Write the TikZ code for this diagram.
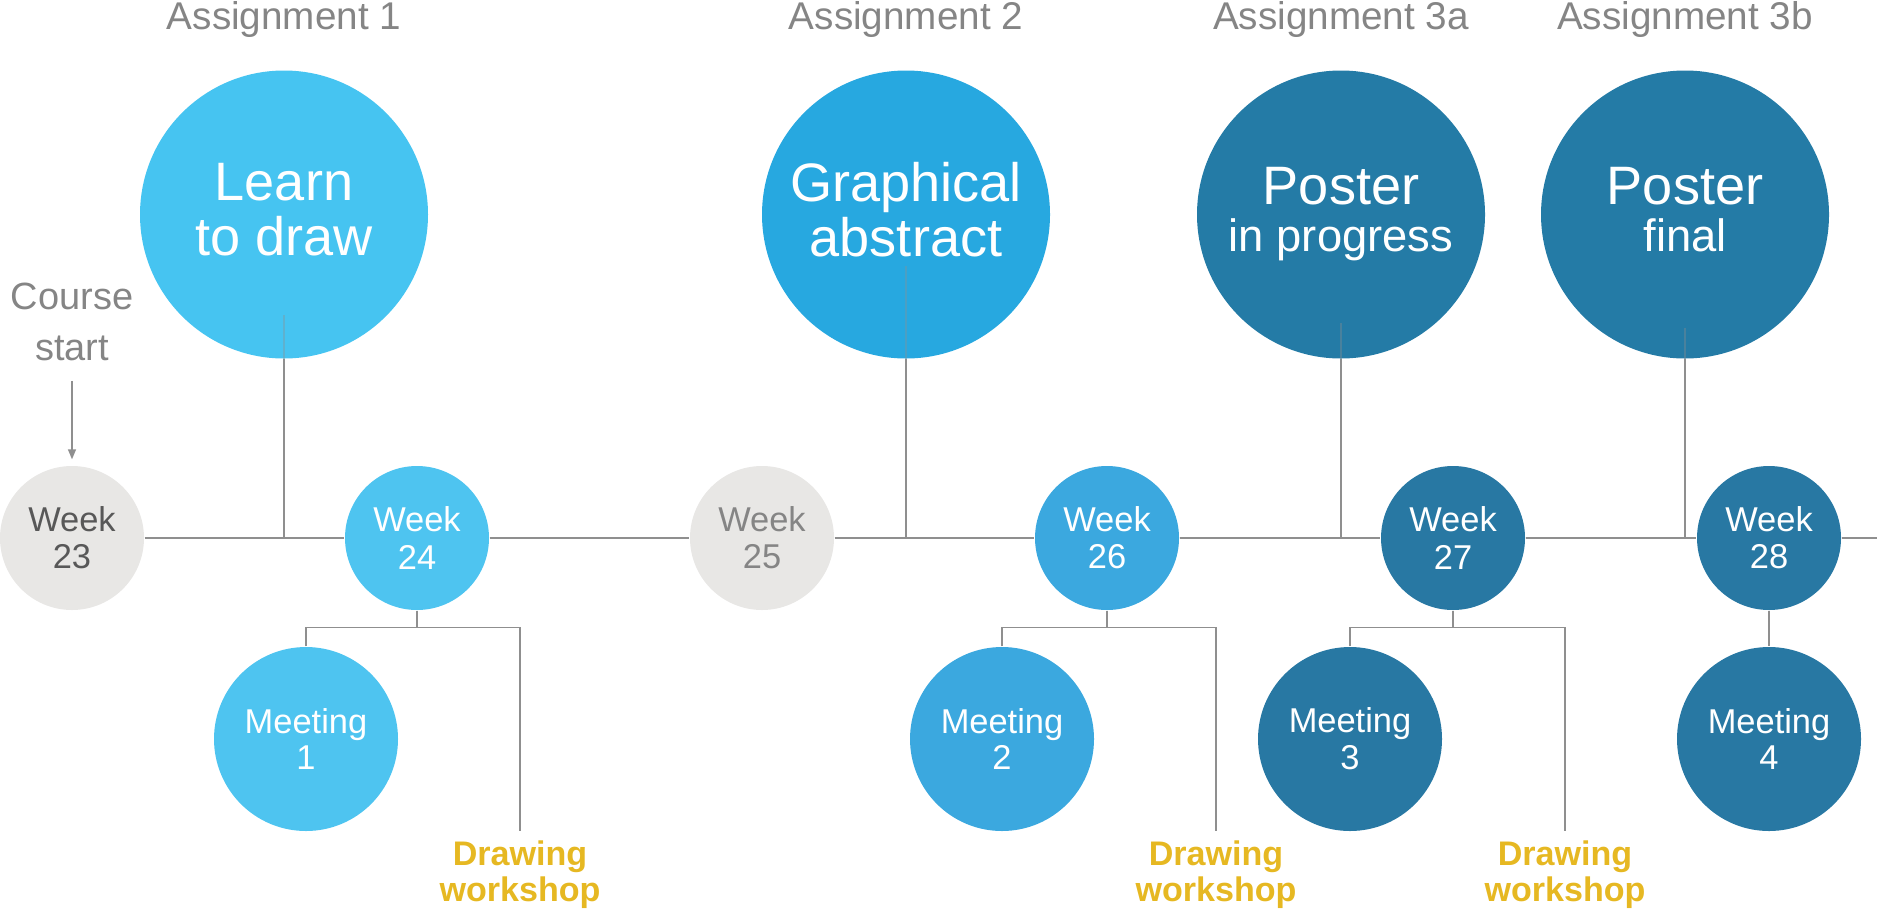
\documentclass[tikz,border=0pt]{standalone}
\usepackage{fontspec}
\setmainfont{Liberation Sans}
\usetikzlibrary{arrows.meta}

\definecolor{blueA}{RGB}{70,196,241}
\definecolor{blueAw}{RGB}{78,196,240}
\definecolor{blueB}{RGB}{39,168,224}
\definecolor{blueBw}{RGB}{59,168,223}
\definecolor{blueC}{RGB}{36,123,166}
\definecolor{blueCw}{RGB}{40,120,163}
\definecolor{weekGrayFill}{RGB}{232,231,229}
\definecolor{lineGray}{RGB}{143,143,143}
\definecolor{textGray}{RGB}{133,133,133}
\definecolor{darkText}{RGB}{88,88,88}
\definecolor{wsYellow}{RGB}{230,184,34}

\begin{document}
\begin{tikzpicture}
        [assign/.style={circle, minimum size=2.88cm, inner sep=0pt, text=white, align=center, text depth=0.1cm, font=\fontsize{15.4}{15.6}\selectfont},
        assignTitle/.style={anchor=base, text=textGray, font=\fontsize{11}{13}\selectfont},
        week/.style={circle, minimum size=1.44cm, inner sep=0pt, text=white, align=center, font=\fontsize{9.8}{10.6}\selectfont},
        weekGray/.style={week, fill=weekGrayFill},
        meeting/.style={circle, minimum size=1.84cm, inner sep=0pt, text=white, align=center, font=\fontsize{9.8}{10.5}\selectfont},
        workshop/.style={anchor=north, inner xsep=0pt, inner ysep=0.09cm, align=center, text=wsYellow, font=\bfseries\fontsize{9.7}{10.4}\selectfont},
        link/.style={draw=lineGray, line width=0.4pt}]
        \useasboundingbox (0,0) rectangle (18.77,-9.09);

        % assignments
        \node[assignTitle] (T1) at (2.84,-0.29) {Assignment 1};
        \node[assignTitle] (T2) at (9.06,-0.29) {Assignment 2};
        \node[assignTitle] (T3) at (13.41,-0.29) {Assignment 3a};
        \node[assignTitle] (T4) at (16.85,-0.29) {Assignment 3b};
        \node[assign, fill=blueA] (A1) at (2.84,-2.145) {Learn\\to draw};
        \node[assign, fill=blueB] (A2) at (9.06,-2.145) {Graphical\\abstract};
        \node[assign, fill=blueC] (A3) at (13.41,-2.145) {Poster\\[-2.2pt]{\fontsize{12.9}{13}\selectfont in progress}};
        \node[assign, fill=blueC] (A4) at (16.85,-2.145) {Poster\\[-2.2pt]{\fontsize{12.9}{13}\selectfont final}};

        % weeks
        \node[align=center, inner sep=0pt, anchor=north, text=textGray, font=\fontsize{10.8}{14.7}\selectfont] (CS) at (0.72,-2.82) {Course\\start};
        \node[weekGray, text=darkText] (W23) at (0.72,-5.38) {Week\\23};
        \node[week, fill=blueAw] (W24) at (4.17,-5.38) {Week\\24};
        \node[weekGray, text=textGray] (W25) at (7.62,-5.38) {Week\\25};
        \node[week, fill=blueBw] (W26) at (11.07,-5.38) {Week\\26};
        \node[week, fill=blueCw] (W27) at (14.53,-5.38) {Week\\27};
        \node[week, fill=blueCw] (W28) at (17.69,-5.38) {Week\\28};
        \coordinate (tlEnd) at (18.77,-5.38);

        % meetings and workshops
        \node[meeting, fill=blueAw] (M1) at (3.06,-7.39) {Meeting\\1};
        \node[meeting, fill=blueBw] (M2) at (10.02,-7.39) {Meeting\\2};
        \node[meeting, fill=blueCw] (M3) at (13.50,-7.39) {Meeting\\3};
        \node[meeting, fill=blueCw] (M4) at (17.69,-7.39) {Meeting\\4};
        \node[workshop] (D1) at (5.20,-8.31) {Drawing\\workshop};
        \node[workshop] (D2) at (12.16,-8.31) {Drawing\\workshop};
        \node[workshop] (D3) at (15.65,-8.31) {Drawing\\workshop};

        \draw[link, -{Triangle[length=0.1cm, width=0.08cm]}, shorten <=0.19cm, shorten >=0.06cm] (CS) -- (W23);
        \draw[link] (W23) -- (W24) -- (W25) -- (W26) -- (W27) -- (W28) -- (tlEnd);

        \draw[link] (A1) -- (A1 |- W24);
        \draw[link] (A2) -- (A2 |- W25);
        \draw[link] (A3) -- (A3 |- W27);
        \draw[link] (A4) -- (A4 |- W28);
        \draw[link, draw opacity=0.35] ([yshift=0.44cm]A1.south) -- (A1.south);
        \draw[link, draw opacity=0.35] ([yshift=0.93cm]A2.south) -- (A2.south);
        \draw[link, draw opacity=0.35] ([yshift=0.36cm]A3.south) -- (A3.south);
        \draw[link, draw opacity=0.35] ([yshift=0.31cm]A4.south) -- (A4.south);

        \draw[link] (W24.south) -- ++(0,-0.17) coordinate (j24);
        \draw[link] (M1.north) |- (j24) -| (D1.north);
        \draw[link] (W26.south) -- ++(0,-0.17) coordinate (j26);
        \draw[link] (M2.north) |- (j26) -| (D2.north);
        \draw[link] (W27.south) -- ++(0,-0.17) coordinate (j27);
        \draw[link] (M3.north) |- (j27) -| (D3.north);
        \draw[link] (W28) -- (M4);
    \end{tikzpicture}
\end{document}
